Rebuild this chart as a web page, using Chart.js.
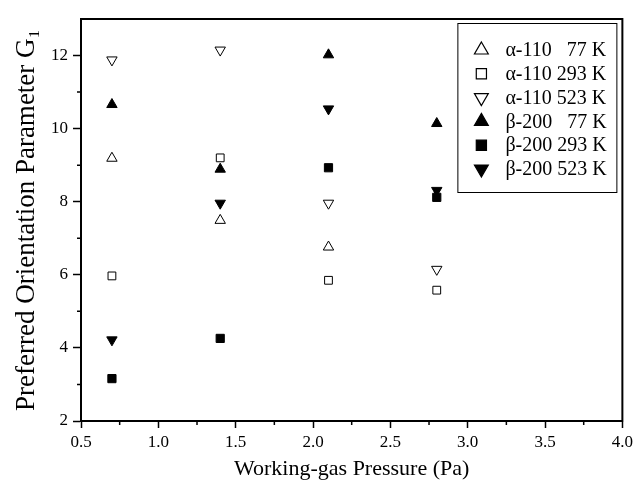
<!DOCTYPE html>
<html>
<head>
<meta charset="utf-8">
<script src="https://cdn.jsdelivr.net/npm/chart.js@4/dist/chart.umd.min.js"></script>
<style>
  html, body { margin: 0; padding: 0; background: #fff; }
</style>
</head>
<body>
<canvas id="myChart" width="637" height="491"></canvas>
<script>
// data
const pressure = [0.7, 1.4, 2.1, 2.8]
const a110_77 = [9.19, 7.49, 6.76, null]
const a110_293 = [5.97, 9.20, 5.85, 5.58]
const a110_523 = [11.88, 12.15, 7.96, 6.15]
const b200_77 = [10.66, 8.89, 12.02, 10.14]
const b200_293 = [3.16, 4.26, 8.93, 8.12]
const b200_523 = [4.22, 7.96, 10.54, 8.31]
const seriesLabels = ['α-110   77 K', 'α-110 293 K', 'α-110 523 K', 'β-200   77 K', 'β-200 293 K', 'β-200 523 K']
const xTicks = [0.5, 1.0, 1.5, 2.0, 2.5, 3.0, 3.5, 4.0]
const yTicks = [2, 4, 6, 8, 10, 12]
const xMinor = [0.75, 1.25, 1.75, 2.25, 2.75, 3.25, 3.75]
const yMinor = [3, 5, 7, 9, 11]

const serif = "'Liberation Serif', 'Times New Roman', serif"

function pts(ys) {
  return pressure.map((x, i) => ({ x: x, y: ys[i] }))
}

// marker styles: [pointStyle, rotation, filled, radius]
const markers = [
  ['triangle', 0, false, 6],
  ['rect', 0, false, 5.5],
  ['triangle', 180, false, 6],
  ['triangle', 0, true, 6],
  ['rect', 0, true, 5.8],
  ['triangle', 180, true, 6],
]
const allSeries = [a110_77, a110_293, a110_523, b200_77, b200_293, b200_523]

const datasets = allSeries.map((ys, i) => ({
  label: seriesLabels[i],
  data: pts(ys),
  showLine: false,
  pointStyle: markers[i][0],
  pointRotation: markers[i][1],
  pointRadius: markers[i][3],
  pointHoverRadius: markers[i][3],
  pointBackgroundColor: markers[i][2] ? '#000' : '#fff',
  pointBorderColor: '#000',
  pointBorderWidth: 1,
}))

function drawMarker(ctx, style, rot, filled, r, x, y) {
  ctx.save()
  ctx.beginPath()
  if (style === 'rect') {
    const s = r * Math.SQRT1_2
    ctx.rect(x - s, y - s, 2 * s, 2 * s)
  } else {
    let a = rot * Math.PI / 180
    ctx.moveTo(x + Math.sin(a) * r, y - Math.cos(a) * r)
    a += 2 * Math.PI / 3
    ctx.lineTo(x + Math.sin(a) * r, y - Math.cos(a) * r)
    a += 2 * Math.PI / 3
    ctx.lineTo(x + Math.sin(a) * r, y - Math.cos(a) * r)
    ctx.closePath()
  }
  ctx.fillStyle = filled ? '#000' : '#fff'
  ctx.fill()
  ctx.lineWidth = 1.2
  ctx.strokeStyle = '#000'
  ctx.stroke()
  ctx.restore()
}

const framePlugin = {
  id: 'frame',
  afterDraw(chart) {
    const ctx = chart.ctx
    const a = chart.chartArea
    const xs = chart.scales.x, ys = chart.scales.y
    ctx.save()
    ctx.strokeStyle = '#000'
    // plot frame
    ctx.lineWidth = 2
    ctx.strokeRect(a.left, a.top, a.right - a.left, a.bottom - a.top)
    // minor ticks
    ctx.lineWidth = 1.5
    ctx.beginPath()
    xMinor.forEach(v => {
      const px = xs.getPixelForValue(v)
      ctx.moveTo(px, a.bottom)
      ctx.lineTo(px, a.bottom + 4)
    })
    yMinor.forEach(v => {
      const py = ys.getPixelForValue(v)
      ctx.moveTo(a.left, py)
      ctx.lineTo(a.left - 4, py)
    })
    ctx.stroke()

    // legend box
    const bx = a.right - 165, by = a.top + 4, bw = 159, bh = 169
    ctx.lineWidth = 1
    ctx.strokeRect(bx + 0.5, by + 0.5, bw, bh)
    ctx.font = '20px ' + serif
    ctx.fillStyle = '#000'
    ctx.textBaseline = 'middle'
    chart.data.datasets.forEach((ds, i) => {
      const cy = by + 27 + i * 23.8
      const m = markers[i]
      drawMarker(ctx, m[0], m[1], m[2], m[0] === 'rect' ? 7.2 : 8, bx + 24, cy)
      ctx.fillText(ds.label, bx + 48, cy + 1)
    })
    ctx.restore()
  }
}

let ctx = document.getElementById('myChart')

let myChart = new Chart(ctx, {
  type: 'scatter',
  data: { datasets: datasets },
  options: {
    responsive: false,
    animation: false,
    layout: { padding: { top: 19, right: 12, left: 0, bottom: 0 } },
    plugins: {
      legend: { display: false },
      tooltip: { enabled: false },
    },
    scales: {
      x: {
        type: 'linear',
        min: 0.5,
        max: 4.0,
        afterBuildTicks: s => { s.ticks = xTicks.map(v => ({ value: v })) },
        afterFit: s => { s.height = 70 },
        ticks: {
          color: '#000',
          font: { family: serif, size: 17 },
          padding: 4,
          maxRotation: 0,
          autoSkip: false,
          callback: v => Number(v).toFixed(1),
        },
        grid: { drawOnChartArea: false, tickLength: 7, tickColor: '#000', tickWidth: 1.5 },
        border: { color: '#000', width: 2 },
        title: {
          display: true,
          text: 'Working-gas Pressure (Pa)',
          color: '#000',
          font: { family: serif, size: 22 },
          padding: { top: 0, bottom: 9 },
        },
      },
      y: {
        type: 'linear',
        min: 2,
        max: 13,
        afterBuildTicks: s => { s.ticks = yTicks.map(v => ({ value: v })) },
        afterFit: s => { s.width = 81 },
        ticks: {
          color: '#000',
          font: { family: serif, size: 17 },
          padding: 5,
          autoSkip: false,
        },
        grid: { drawOnChartArea: false, tickLength: 8, tickColor: '#000', tickWidth: 1.5 },
        border: { color: '#000', width: 2 },
        title: {
          display: true,
          text: 'Preferred Orientation Parameter G\u2081',
          color: '#000',
          font: { family: serif, size: 27 },
          padding: { top: 11, bottom: 0 },
        },
      },
    },
  },
  plugins: [framePlugin],
})
</script>
</body>
</html>
